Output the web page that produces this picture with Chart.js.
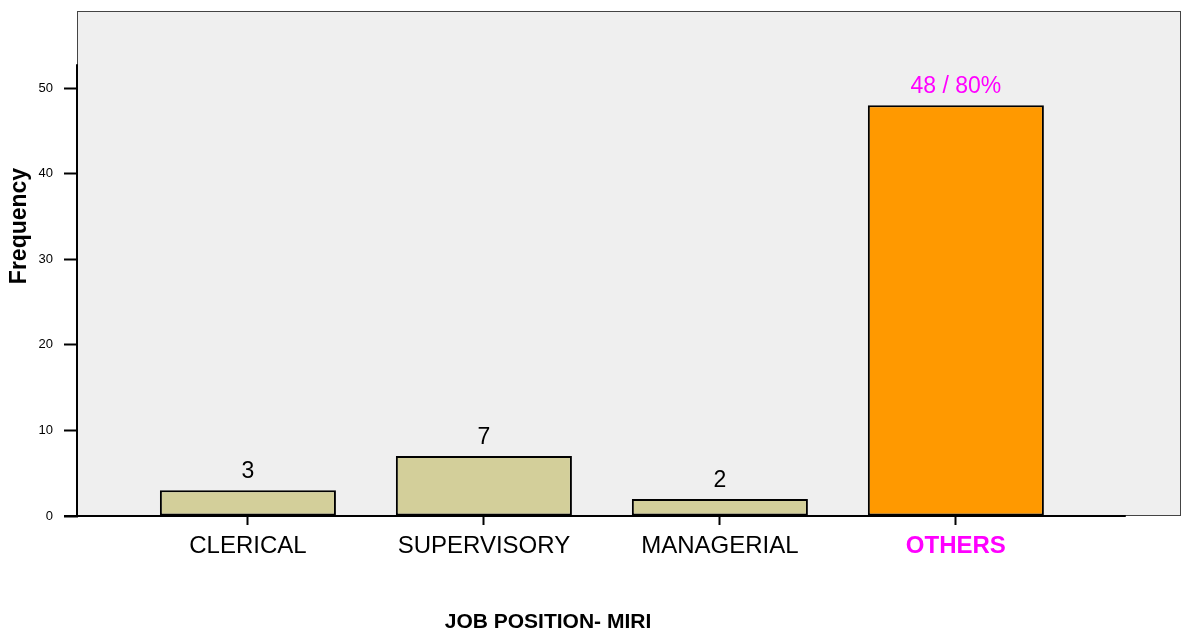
<!DOCTYPE html>
<html>
<head>
<meta charset="utf-8">
<script src="https://cdn.jsdelivr.net/npm/chart.js@4"></script>
<style>
  html, body { margin: 0; padding: 0; background: #fff; }
  #wrap { width: 1182px; height: 632px; }
</style>
</head>
<body>
<div id="wrap"><canvas id="jobChart" width="1182" height="632"></canvas></div>
<script>
// Data
const categories = ['CLERICAL', 'SUPERVISORY', 'MANAGERIAL', 'OTHERS'];
const frequencies = [3, 7, 2, 48];
const valueLabels = ['3', '7', '2', '48 / 80%'];
const yTickValues = [0, 10, 20, 30, 40, 50];

const barColors = ['#d3cf9a', '#d3cf9a', '#d3cf9a', '#ff9900'];
const labelColors = ['#000', '#000', '#000', '#ff00ff'];
const FONT = 'Arial, "Liberation Sans", sans-serif';

// Grey plot box, SPSS-style axes, value labels and axis titles
const spssFrame = {
    id: 'spssFrame',
    beforeDatasetsDraw(chart) {
        const { ctx, chartArea: a } = chart;
        ctx.save();
        ctx.fillStyle = '#efefef';
        ctx.fillRect(a.left, a.top, a.right - a.left, a.bottom - a.top);
        ctx.strokeStyle = '#444';
        ctx.lineWidth = 1;
        ctx.strokeRect(a.left - 0.5, a.top - 0.5, a.right - a.left, a.bottom - a.top);
        ctx.restore();
    },
    afterDatasetsDraw(chart) {
        const { ctx, chartArea: a, scales } = chart;
        const x = scales.x, y = scales.y;
        ctx.save();
        // axis lines
        ctx.strokeStyle = '#000';
        ctx.lineWidth = 2;
        ctx.beginPath();
        ctx.moveTo(a.left - 1, y.getPixelForValue(52.8));
        ctx.lineTo(a.left - 1, a.bottom);
        ctx.moveTo(a.left - 14, a.bottom);
        ctx.lineTo(x.getPixelForValue(3.72), a.bottom);
        ctx.stroke();

        // value labels over bars
        const meta = chart.getDatasetMeta(0);
        ctx.font = '23px ' + FONT;
        ctx.textAlign = 'center';
        ctx.textBaseline = 'alphabetic';
        meta.data.forEach((bar, i) => {
            ctx.fillStyle = labelColors[i];
            ctx.fillText(valueLabels[i], bar.x, bar.y - 12);
        });

        // axis titles
        ctx.fillStyle = '#000';
        ctx.font = 'bold 21px ' + FONT;
        ctx.textBaseline = 'middle';
        ctx.fillText('JOB POSITION- MIRI', 548, 622);
        ctx.translate(20, 226);
        ctx.rotate(-Math.PI / 2);
        ctx.font = 'bold 23px ' + FONT;
        ctx.fillText('Frequency', 0, 0);
        ctx.restore();
    }
};

new Chart(document.getElementById('jobChart'), {
    type: 'bar',
    data: {
        datasets: [{
            data: frequencies.map((v, i) => ({ x: i, y: v })),
            backgroundColor: barColors,
            borderColor: '#000',
            borderWidth: 2,
            borderSkipped: false,
            categoryPercentage: 1,
            barPercentage: 0.746
        }]
    },
    options: {
        responsive: false,
        animation: false,
        layout: { padding: { top: 12, right: 1, left: 0, bottom: 0 } },
        plugins: {
            legend: { display: false },
            tooltip: { enabled: false }
        },
        scales: {
            x: {
                type: 'linear',
                offset: false,
                min: -0.72,
                max: 3.954,
                afterFit: s => {
                    s.height = 116;
                    s.paddingLeft = 0;
                    s.paddingRight = 0;
                },
                afterBuildTicks: s => { s.ticks = categories.map((c, i) => ({ value: i })); },
                border: { display: false },
                grid: {
                    offset: false,
                    drawOnChartArea: false,
                    drawTicks: true,
                    tickLength: 9,
                    tickWidth: 2,
                    tickColor: '#000'
                },
                ticks: {
                    padding: 7,
                    autoSkip: false,
                    maxRotation: 0,
                    callback: v => categories[v],
                    color: ctx => labelColors[ctx.index],
                    font: ctx => ({
                        family: FONT,
                        size: 24,
                        weight: ctx.index === 3 ? 'bold' : 'normal'
                    })
                }
            },
            y: {
                min: 0,
                max: 58.9,
                afterFit: s => {
                    s.width = 78;
                    s.paddingTop = 0;
                    s.paddingBottom = 0;
                },
                afterBuildTicks: s => { s.ticks = yTickValues.map(v => ({ value: v })); },
                border: { display: false },
                grid: {
                    drawOnChartArea: false,
                    drawTicks: true,
                    tickLength: 14,
                    tickWidth: 2,
                    tickColor: '#000'
                },
                ticks: {
                    padding: 11,
                    color: '#000',
                    font: { family: FONT, size: 13 }
                }
            }
        }
    },
    plugins: [spssFrame]
});
</script>
</body>
</html>
